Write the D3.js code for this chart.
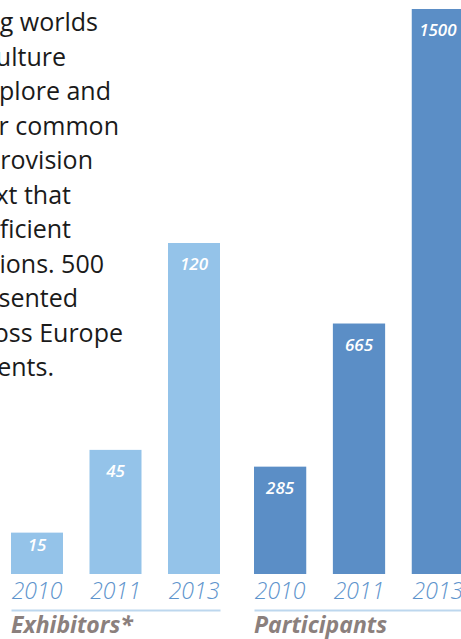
<!DOCTYPE html>
<html>
<head>
<meta charset="utf-8">
<script src="https://cdn.jsdelivr.net/npm/d3@7"></script>
<style>
  html, body { margin: 0; padding: 0; background: #fff; }
  svg { display: block; font-family: 'Open Sans', sans-serif; }
</style>
</head>
<body>
<div id="container"></div>
<script>
// chart data
var years = ['2010', '2011', '2013']
var exhibitors = [15, 45, 120]
var participants = [285, 665, 1500]
var titles = ['Exhibitors*', 'Participants']

// text fragment cut off at the left edge of the page
var paragraph = [
  'g worlds',
  'ulture',
  'plore and',
  'r common',
  'rovision',
  'xt that',
  'ficient',
  'ions. 500',
  'sented',
  'oss Europe',
  'ents.'
]
// right edge of each visible line
var lineEnds = [98, 66, 111, 119, 93, 71, 71, 104, 78, 123, 54]

var width = 461
var height = 639
var baseY = 574
var axisY = 610

var svg = d3.select('#container').append('svg')
  .attr('width', width)
  .attr('height', height)

svg.append('g')
  .selectAll('text')
  .data(paragraph)
  .enter().append('text')
  .attr('x', function (d, i) { return lineEnds[i] })
  .attr('y', function (d, i) { return 31 + i * 34.5 })
  .attr('text-anchor', 'end')
  .style('font-size', '25px')
  .style('fill', '#1a1a1a')
  .text(function (d) { return d })

/* one panel per series */
var panels = [
  { values: exhibitors, max: 120, top: 243, x0: 11, x1: 220, fill: '#94c3e9', title: titles[0] },
  { values: participants, max: 1500, top: 9, x0: 254, x1: 464, fill: '#5b8ec6', title: titles[1] }
]

panels.forEach(function (p) {
  var x = d3.scaleBand()
    .domain(years)
    .range([p.x0, p.x1])
    .paddingInner(0.3376)
    .paddingOuter(0)

  var y = d3.scaleLinear()
    .domain([0, p.max])
    .range([baseY, p.top])

  var g = svg.append('g')

  g.selectAll('rect')
    .data(p.values)
    .enter().append('rect')
    .attr('x', function (d, i) { return x(years[i]) })
    .attr('y', function (d) { return y(d) })
    .attr('width', x.bandwidth())
    .attr('height', function (d) { return baseY - y(d) })
    .style('fill', p.fill)

  g.selectAll('text.value')
    .data(p.values)
    .enter().append('text')
    .attr('class', 'value')
    .attr('x', function (d, i) { return x(years[i]) + x.bandwidth() / 2 })
    .attr('y', function (d) { return y(d) + Math.min(27, (baseY - y(d)) * 0.45) })
    .attr('text-anchor', 'middle')
    .style('font-size', '17px')
    .style('font-weight', 600)
    .style('font-style', 'italic')
    .style('fill', '#fff')
    .text(function (d) { return d })

  var axis = g.append('g')
    .attr('transform', 'translate(0,' + axisY + ')')
    .call(d3.axisTop(x).tickSizeInner(0).tickSizeOuter(0).tickPadding(11))

  axis.select('.domain')
    .attr('stroke', '#bdd7ee')
    .attr('stroke-width', 2)
  axis.selectAll('.tick text')
    .style('font-family', "'Open Sans', sans-serif")
    .style('font-size', '23px')
    .style('font-weight', 300)
    .style('font-style', 'italic')
    .style('fill', '#5d93cc')

  g.append('text')
    .attr('x', p.x0)
    .attr('y', 633)
    .style('font-size', '23px')
    .style('font-weight', 700)
    .style('font-style', 'italic')
    .style('fill', '#8b807d')
    .text(p.title)
})
</script>
</body>
</html>
